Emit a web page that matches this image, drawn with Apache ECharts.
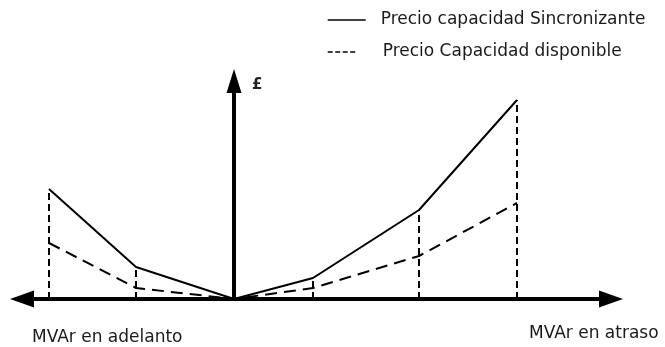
<!DOCTYPE html>
<html>
<head>
<meta charset="utf-8">
<script src="https://cdn.jsdelivr.net/npm/echarts@6/dist/echarts.min.js"></script>
<style>html,body{margin:0;padding:0;background:#fff;}#c{width:665px;height:347px;}</style>
</head>
<body>
<div id="c"></div>
<script>
const xs = [-18.5, -9.8, 0, 7.9, 18.5, 28.3];
const sincronizante = [11.0, 3.2, 0, 2.1, 8.9, 19.9];
const disponible = [5.6, 1.1, 0, 1.1, 4.3, 9.6];
const seriesNames = ['Precio capacidad Sincronizante', 'Precio Capacidad disponible'];
const axisLabels = ['MVAr en adelanto', 'MVAr en atraso', '£'];

const textColor = '#1a1a1a';
const font = 'DejaVu Sans';

const dropLines = [];
xs.forEach((x, i) => {
  if (sincronizante[i] > 0) {
    dropLines.push([{ coord: [x, 0] }, { coord: [x, sincronizante[i]] }]);
  }
});

const chart = echarts.init(document.getElementById('c'), null, { renderer: 'canvas' });
chart.setOption({
  animation: false,
  backgroundColor: '#fff',
  grid: { left: 22, right: 54, top: 81, bottom: 48 },
  xAxis: {
    type: 'value', min: -21.2, max: 37.7,
    axisLine: { show: true, onZero: true, symbol: ['triangle', 'triangle'], symbolSize: [17, 24],
      lineStyle: { color: '#000', width: 4 } },
    axisTick: { show: false }, axisLabel: { show: false }, splitLine: { show: false }
  },
  yAxis: {
    type: 'value', min: 0, max: 21.8,
    axisLine: { show: true, onZero: true, symbol: ['none', 'triangle'], symbolSize: [15, 24],
      lineStyle: { color: '#000', width: 4 } },
    axisTick: { show: false }, axisLabel: { show: false }, splitLine: { show: false }
  },
  legend: [
    { data: [{ name: seriesNames[0] }], left: 322, top: 5, itemWidth: 38, itemHeight: 20,
      itemStyle: { opacity: 0 }, lineStyle: { width: 1.4 },
      textStyle: { fontFamily: font, fontSize: 17, lineHeight: 20, color: textColor, padding: [0, 0, 0, 10] },
      selectedMode: false },
    { data: [{ name: seriesNames[1] }], left: 322, top: 37, itemWidth: 28, itemHeight: 20,
      itemStyle: { opacity: 0 }, lineStyle: { type: [5, 2.5], width: 1.4 },
      textStyle: { fontFamily: font, fontSize: 17, lineHeight: 20, color: textColor, padding: [0, 0, 0, 22] },
      selectedMode: false }
  ],
  series: [
    {
      name: seriesNames[0], type: 'line', symbol: 'none', z: 3,
      data: xs.map((x, i) => [x, sincronizante[i]]),
      lineStyle: { color: '#000', width: 2, type: 'solid' },
      itemStyle: { color: '#000' },
      markLine: {
        silent: true, symbol: ['none', 'none'], label: { show: false },
        lineStyle: { color: '#000', width: 2, type: [7, 4] },
        data: dropLines
      }
    },
    {
      name: seriesNames[1], type: 'line', symbol: 'none', z: 3,
      data: xs.map((x, i) => [x, disponible[i]]),
      lineStyle: { color: '#000', width: 2, type: [12, 7] },
      itemStyle: { color: '#000' }
    }
  ],
  graphic: [
    { type: 'text', x: 32, y: 338, style: { text: axisLabels[0], font: '17px "DejaVu Sans"', fill: textColor, verticalAlign: 'middle' } },
    { type: 'text', x: 529, y: 334, style: { text: axisLabels[1], font: '17px "DejaVu Sans"', fill: textColor, verticalAlign: 'middle' } },
    { type: 'text', x: 252, y: 85, style: { text: axisLabels[2], font: 'bold 15px "DejaVu Sans"', fill: '#222', verticalAlign: 'middle' } }
  ]
});
</script>
</body>
</html>
